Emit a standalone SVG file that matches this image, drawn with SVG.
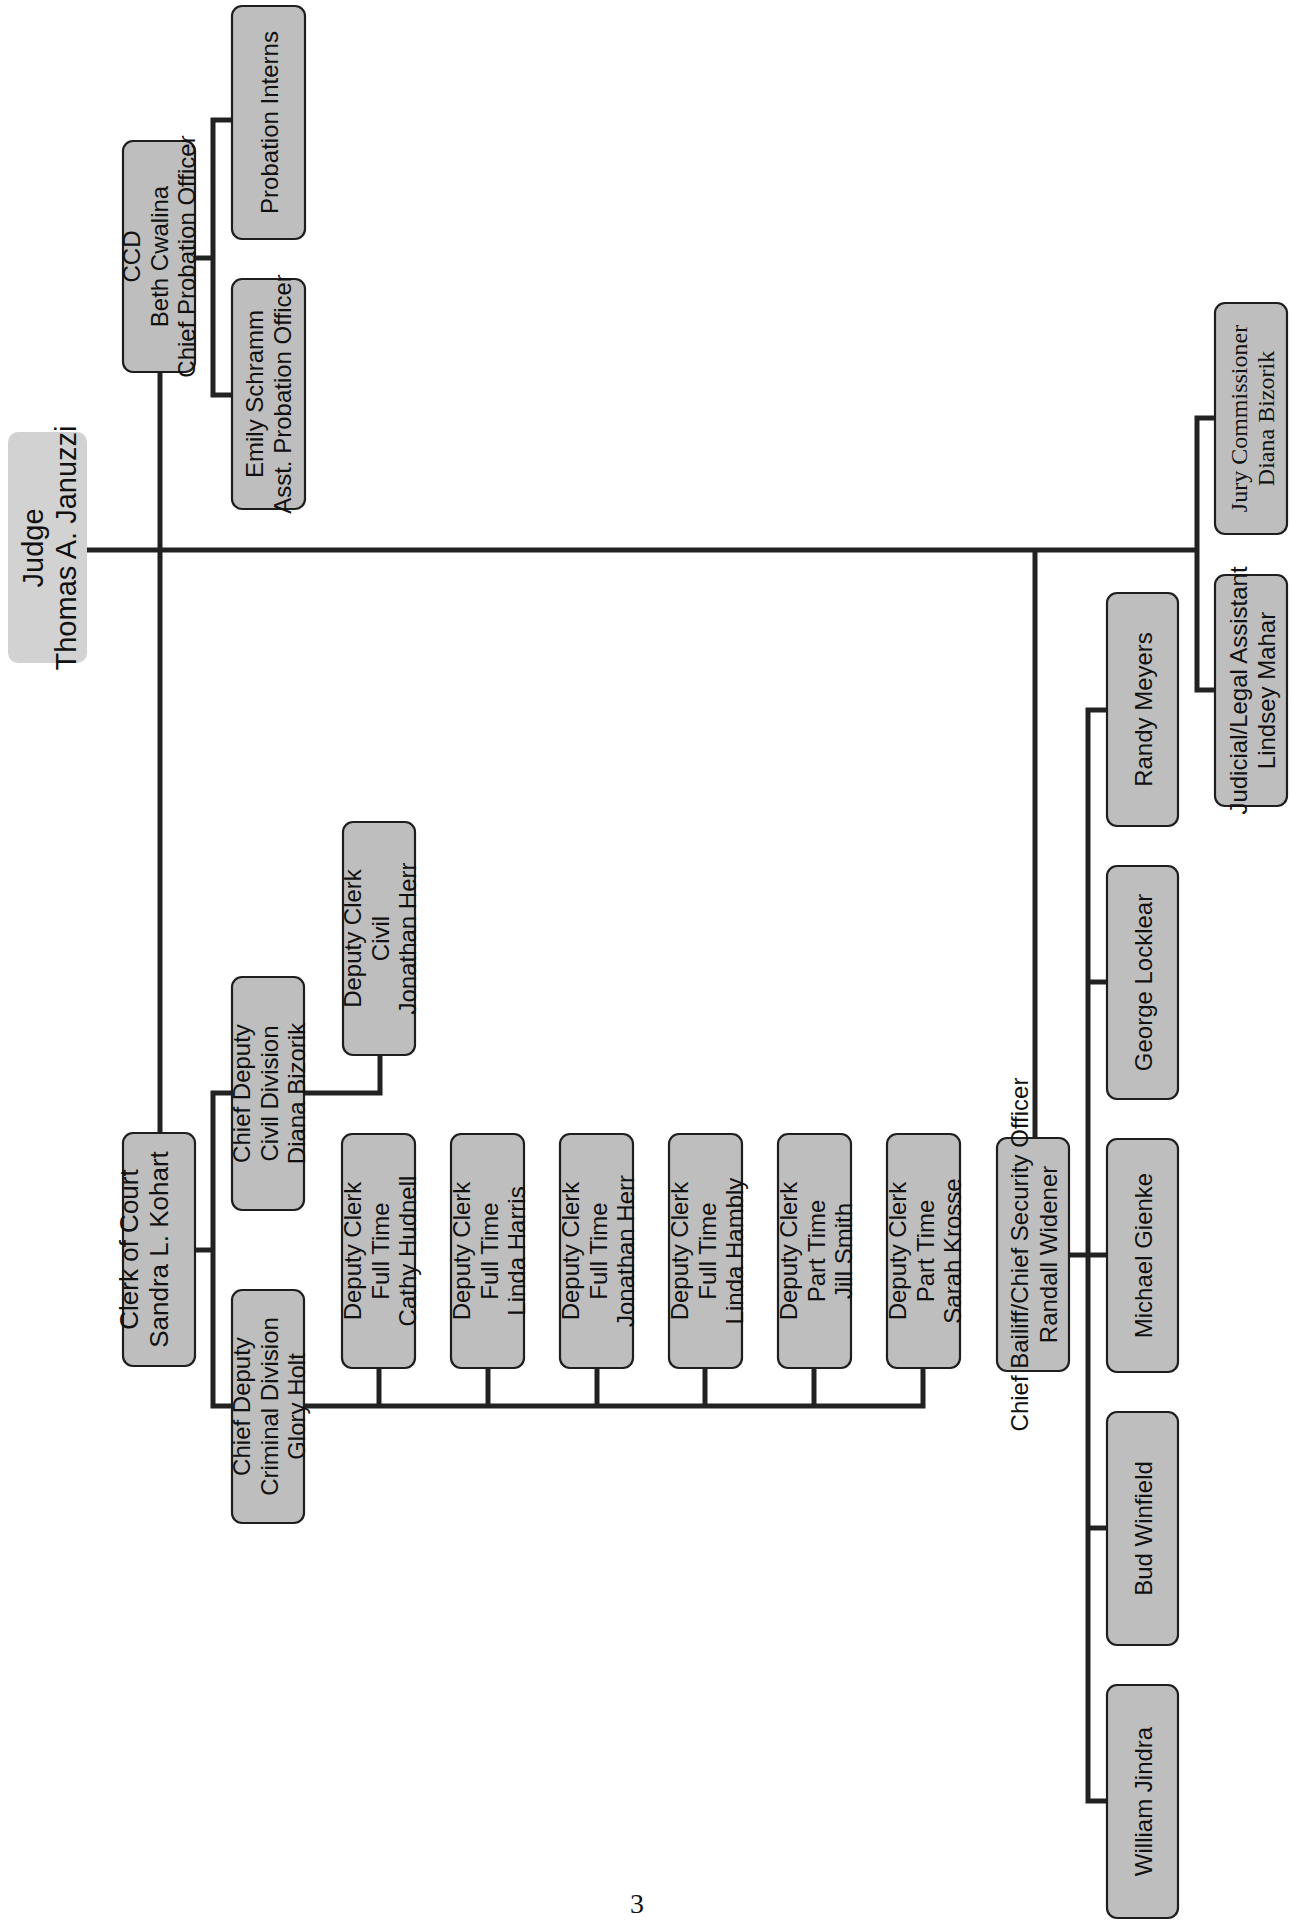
<svg xmlns="http://www.w3.org/2000/svg" width="1292" height="1921" viewBox="0 0 1292 1921">
<style>
.box{fill:#bebebe;stroke:#1e1e1e;stroke-width:2.2}
.judge{fill:#d2d2d2;stroke:none}
.t{font-family:"Liberation Sans",Arial,sans-serif;font-size:24px;fill:#111;text-anchor:middle}
.s{font-family:"Liberation Serif","Times New Roman",serif;font-size:24px;fill:#111;text-anchor:middle}
.conn{stroke:#222;stroke-width:5;fill:none;stroke-linejoin:miter}
</style>
<rect width="1292" height="1921" fill="#fff"/>
<g id="connectors" class="conn">
<path d="M87 550 H1197"/>
<path d="M160 372 V1133"/>
<path d="M195 258 H213"/>
<path d="M232 120 H213 V395 H232"/>
<path d="M1215 418 H1197 V690 H1215"/>
<path d="M1035 550 V1138"/>
<path d="M1107 710 H1088 V1801 H1107"/>
<path d="M1088 982 H1107"/>
<path d="M1069 1255 H1107"/>
<path d="M1088 1528 H1107"/>
<path d="M195 1250 H213"/>
<path d="M232 1093 H213 V1406 H232"/>
<path d="M304 1093 H380 V1055"/>
<path d="M304 1406 H923 V1368"/>
<path d="M379 1406 V1368"/>
<path d="M488 1406 V1368"/>
<path d="M597 1406 V1368"/>
<path d="M705 1406 V1368"/>
<path d="M814 1406 V1368"/>
</g>
<g id="judge">
<rect class="judge" x="8" y="432" width="79" height="231" rx="10"/>
<g transform="translate(47.5 548) rotate(-90)"><text class="t" style="font-size:29px"><tspan x="0" y="-5">Judge</tspan><tspan x="0" y="28">Thomas A. Januzzi</tspan></text></g>
</g>
<g id="ccd">
<rect class="box" x="123" y="141" width="72" height="231" rx="10"/>
<g transform="translate(159 256.5) rotate(-90)"><text class="t"><tspan x="0" y="-19">CCD</tspan><tspan x="0" y="9">Beth Cwalina</tspan><tspan x="0" y="36">Chief Probation Officer</tspan></text></g>
</g>
<g id="probation-interns">
<rect class="box" x="232" y="6" width="73" height="233" rx="10"/>
<g transform="translate(268.5 122.5) rotate(-90)"><text class="t"><tspan x="0" y="9">Probation Interns</tspan></text></g>
</g>
<g id="emily-schramm">
<rect class="box" x="232" y="279" width="73" height="230" rx="10"/>
<g transform="translate(268.5 394) rotate(-90)"><text class="t"><tspan x="0" y="-6">Emily Schramm</tspan><tspan x="0" y="22">Asst. Probation Officer</tspan></text></g>
</g>
<g id="clerk-of-court">
<rect class="box" x="123" y="1133" width="72" height="233" rx="10"/>
<g transform="translate(159 1249.5) rotate(-90)"><text class="t" style="font-size:26px"><tspan x="0" y="-21">Clerk of Court</tspan><tspan x="0" y="9">Sandra L. Kohart</tspan></text></g>
</g>
<g id="chief-deputy-civil">
<rect class="box" x="232" y="977" width="72" height="233" rx="10"/>
<g transform="translate(268 1093.5) rotate(-90)"><text class="t"><tspan x="0" y="-18">Chief Deputy</tspan><tspan x="0" y="10">Civil Division</tspan><tspan x="0" y="37">Diana Bizorik</tspan></text></g>
</g>
<g id="deputy-clerk-civil">
<rect class="box" x="343" y="822" width="72" height="233" rx="10"/>
<g transform="translate(379 938.5) rotate(-90)"><text class="t"><tspan x="0" y="-18">Deputy Clerk</tspan><tspan x="0" y="10">Civil</tspan><tspan x="0" y="37">Jonathan Herr</tspan></text></g>
</g>
<g id="chief-deputy-criminal">
<rect class="box" x="232" y="1290" width="72" height="233" rx="10"/>
<g transform="translate(268 1406.5) rotate(-90)"><text class="t"><tspan x="0" y="-18">Chief Deputy</tspan><tspan x="0" y="10">Criminal Division</tspan><tspan x="0" y="37">Glory Holt</tspan></text></g>
</g>
<g id="clerk-cathy-hudnell">
<rect class="box" x="342" y="1134" width="73" height="234" rx="10"/>
<g transform="translate(378.5 1251) rotate(-90)"><text class="t"><tspan x="0" y="-18">Deputy Clerk</tspan><tspan x="0" y="10">Full Time</tspan><tspan x="0" y="37">Cathy Hudnell</tspan></text></g>
</g>
<g id="clerk-linda-harris">
<rect class="box" x="451" y="1134" width="73" height="234" rx="10"/>
<g transform="translate(487.5 1251) rotate(-90)"><text class="t"><tspan x="0" y="-18">Deputy Clerk</tspan><tspan x="0" y="10">Full Time</tspan><tspan x="0" y="37">Linda Harris</tspan></text></g>
</g>
<g id="clerk-jonathan-herr">
<rect class="box" x="560" y="1134" width="73" height="234" rx="10"/>
<g transform="translate(596.5 1251) rotate(-90)"><text class="t"><tspan x="0" y="-18">Deputy Clerk</tspan><tspan x="0" y="10">Full Time</tspan><tspan x="0" y="37">Jonathan Herr</tspan></text></g>
</g>
<g id="clerk-linda-hambly">
<rect class="box" x="669" y="1134" width="73" height="234" rx="10"/>
<g transform="translate(705.5 1251) rotate(-90)"><text class="t"><tspan x="0" y="-18">Deputy Clerk</tspan><tspan x="0" y="10">Full Time</tspan><tspan x="0" y="37">Linda Hambly</tspan></text></g>
</g>
<g id="clerk-jill-smith">
<rect class="box" x="778" y="1134" width="73" height="234" rx="10"/>
<g transform="translate(814.5 1251) rotate(-90)"><text class="t"><tspan x="0" y="-18">Deputy Clerk</tspan><tspan x="0" y="10">Part Time</tspan><tspan x="0" y="37">Jill Smith</tspan></text></g>
</g>
<g id="clerk-sarah-krosse">
<rect class="box" x="887" y="1134" width="73" height="234" rx="10"/>
<g transform="translate(923.5 1251) rotate(-90)"><text class="t"><tspan x="0" y="-18">Deputy Clerk</tspan><tspan x="0" y="10">Part Time</tspan><tspan x="0" y="37">Sarah Krosse</tspan></text></g>
</g>
<g id="chief-bailiff">
<rect class="box" x="997" y="1138" width="72" height="233" rx="10"/>
<g transform="translate(1033 1254.5) rotate(-90)"><text class="t"><tspan x="0" y="-5">Chief Bailiff/Chief Security Officer</tspan><tspan x="0" y="24">Randall Widener</tspan></text></g>
</g>
<g id="randy-meyers">
<rect class="box" x="1107" y="593" width="71" height="233" rx="10"/>
<g transform="translate(1142.5 709.5) rotate(-90)"><text class="t"><tspan x="0" y="9">Randy Meyers</tspan></text></g>
</g>
<g id="george-locklear">
<rect class="box" x="1107" y="866" width="71" height="233" rx="10"/>
<g transform="translate(1142.5 982.5) rotate(-90)"><text class="t"><tspan x="0" y="9">George Locklear</tspan></text></g>
</g>
<g id="michael-gienke">
<rect class="box" x="1107" y="1139" width="71" height="233" rx="10"/>
<g transform="translate(1142.5 1255.5) rotate(-90)"><text class="t"><tspan x="0" y="9">Michael Gienke</tspan></text></g>
</g>
<g id="bud-winfield">
<rect class="box" x="1107" y="1412" width="71" height="233" rx="10"/>
<g transform="translate(1142.5 1528.5) rotate(-90)"><text class="t"><tspan x="0" y="9">Bud Winfield</tspan></text></g>
</g>
<g id="william-jindra">
<rect class="box" x="1107" y="1685" width="71" height="233" rx="10"/>
<g transform="translate(1142.5 1801.5) rotate(-90)"><text class="t"><tspan x="0" y="9">William Jindra</tspan></text></g>
</g>
<g id="jury-commissioner">
<rect class="box" x="1215" y="303" width="72" height="231" rx="10"/>
<g transform="translate(1251 418.5) rotate(-90)"><text class="s"><tspan x="0" y="-4">Jury Commissioner</tspan><tspan x="0" y="23">Diana Bizorik</tspan></text></g>
</g>
<g id="judicial-legal-assistant">
<rect class="box" x="1215" y="575" width="72" height="231" rx="10"/>
<g transform="translate(1251 690.5) rotate(-90)"><text class="t"><tspan x="0" y="-4">Judicial/Legal Assistant</tspan><tspan x="0" y="24">Lindsey Mahar</tspan></text></g>
</g>
<text x="637" y="1913" style="font-family:'Liberation Serif','Times New Roman',serif;font-size:28px;fill:#111;text-anchor:middle">3</text>
</svg>
